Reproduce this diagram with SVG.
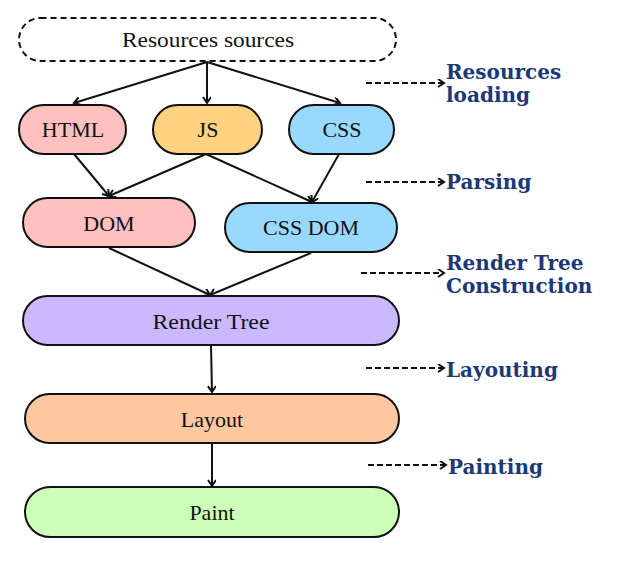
<svg xmlns="http://www.w3.org/2000/svg" width="619" height="561" viewBox="0 0 619 561">
<style>
.node{stroke:#111;stroke-width:2}
.lbl{font-family:"Liberation Serif",serif;font-size:22px;fill:#111;text-anchor:middle}
.stage{font-family:"DejaVu Serif",serif;font-weight:bold;font-size:20px;fill:#1c3877}
.conn{stroke:#111;stroke-width:2;fill:none}
.dash{stroke:#111;stroke-width:2;fill:none;stroke-dasharray:6 3}
</style>
<defs>
<marker id="ah" markerWidth="10" markerHeight="10" refX="7" refY="4" orient="auto" markerUnits="userSpaceOnUse">
<path d="M1,0 L7,4 L1,8" fill="none" stroke="#111" stroke-width="2"/>
</marker>
</defs>
<rect width="619" height="561" fill="#fff"/>
<g id="connectors">
<line class="conn" x1="207" y1="62" x2="74" y2="103" marker-end="url(#ah)"/>
<line class="conn" x1="207" y1="62" x2="207" y2="103" marker-end="url(#ah)"/>
<line class="conn" x1="207" y1="62" x2="340" y2="103" marker-end="url(#ah)"/>
<line class="conn" x1="74" y1="154" x2="109" y2="196" marker-end="url(#ah)"/>
<line class="conn" x1="206" y1="154" x2="109" y2="196" marker-end="url(#ah)"/>
<line class="conn" x1="206" y1="154" x2="312" y2="202" marker-end="url(#ah)"/>
<line class="conn" x1="339" y1="154" x2="312" y2="202" marker-end="url(#ah)"/>
<line class="conn" x1="109" y1="248" x2="210" y2="295" marker-end="url(#ah)"/>
<line class="conn" x1="311" y1="253" x2="210" y2="295" marker-end="url(#ah)"/>
<line class="conn" x1="211" y1="346" x2="212" y2="392" marker-end="url(#ah)"/>
<line class="conn" x1="212" y1="443" x2="212" y2="486" marker-end="url(#ah)"/>
<line class="dash" x1="366" y1="83" x2="444" y2="83" marker-end="url(#ah)"/>
<line class="dash" x1="366" y1="182" x2="444" y2="182" marker-end="url(#ah)"/>
<line class="dash" x1="361" y1="273" x2="444" y2="273" marker-end="url(#ah)"/>
<line class="dash" x1="366" y1="368" x2="444" y2="368" marker-end="url(#ah)"/>
<line class="dash" x1="368" y1="465" x2="446" y2="465" marker-end="url(#ah)"/>
</g>
<g id="resources-sources">
<rect x="19" y="18" width="377" height="43" rx="21.5" fill="#fff" stroke="#111" stroke-width="2" stroke-dasharray="6 4"/>
<text class="lbl" x="208" y="47" textLength="172" lengthAdjust="spacingAndGlyphs">Resources sources</text>
</g>
<g id="html">
<rect class="node" x="19" y="105" width="107" height="49" rx="24.5" fill="#ffc0c0"/>
<text class="lbl" x="73" y="137">HTML</text>
</g>
<g id="js">
<rect class="node" x="153" y="105" width="109" height="49" rx="24.5" fill="#ffd280"/>
<text class="lbl" x="208" y="137">JS</text>
</g>
<g id="css">
<rect class="node" x="289" y="105" width="105" height="49" rx="24.5" fill="#99d9ff"/>
<text class="lbl" x="342" y="137">CSS</text>
</g>
<g id="dom">
<rect class="node" x="23" y="198" width="172" height="49" rx="24.5" fill="#ffc0c0"/>
<text class="lbl" x="109" y="231">DOM</text>
</g>
<g id="css-dom">
<rect class="node" x="225" y="203" width="172" height="49" rx="24.5" fill="#99d9ff"/>
<text class="lbl" x="311" y="235">CSS DOM</text>
</g>
<g id="render-tree">
<rect class="node" x="23" y="296" width="376" height="49" rx="24.5" fill="#cbb8ff"/>
<text class="lbl" x="211" y="329" textLength="117" lengthAdjust="spacingAndGlyphs">Render Tree</text>
</g>
<g id="layout">
<rect class="node" x="25" y="394" width="374" height="49" rx="24.5" fill="#ffc8a0"/>
<text class="lbl" x="212" y="427">Layout</text>
</g>
<g id="paint">
<rect class="node" x="25" y="487" width="374" height="50" rx="25" fill="#ccffb8"/>
<text class="lbl" x="212" y="520">Paint</text>
</g>
<g id="stage-labels">
<text class="stage" x="446" y="79">Resources</text>
<text class="stage" x="446" y="102">loading</text>
<text class="stage" x="446" y="189">Parsing</text>
<text class="stage" x="446" y="270">Render Tree</text>
<text class="stage" x="446" y="293">Construction</text>
<text class="stage" x="446" y="377">Layouting</text>
<text class="stage" x="448" y="474">Painting</text>
</g>
</svg>
